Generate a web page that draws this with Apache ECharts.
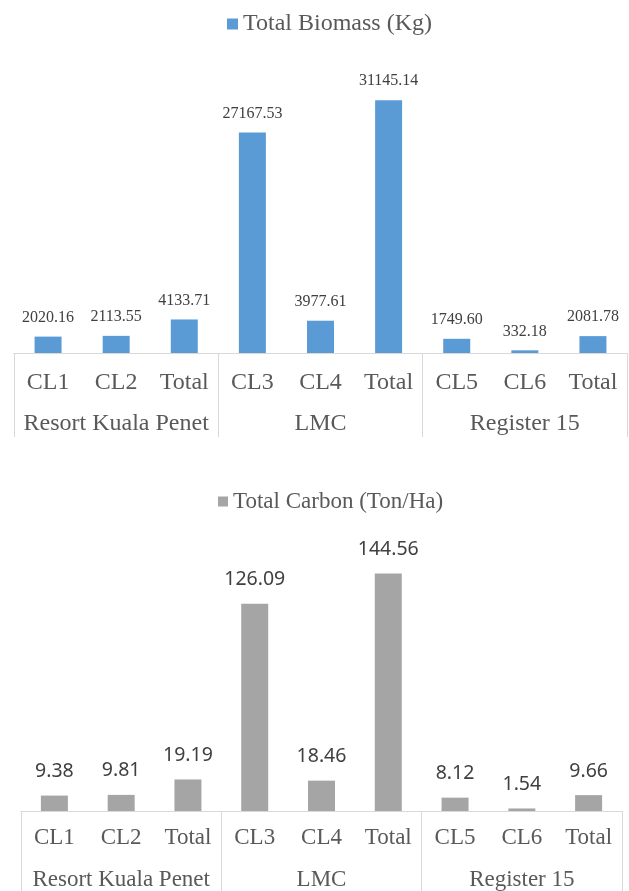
<!DOCTYPE html>
<html>
<head>
<meta charset="utf-8">
<script src="https://cdn.jsdelivr.net/npm/echarts@6/dist/echarts.min.js"></script>
<style>
  html, body { margin: 0; padding: 0; background: #fff; }
  #chart { width: 629px; height: 891px; }
</style>
</head>
<body>
<div id="chart"></div>
<script>
// sites and their plots
const categories = ['CL1', 'CL2', 'Total', 'CL3', 'CL4', 'Total', 'CL5', 'CL6', 'Total'];
const groups = ['Resort Kuala Penet', 'LMC', 'Register 15'];

// values
const biomass = [2020.16, 2113.55, 4133.71, 27167.53, 3977.61, 31145.14, 1749.60, 332.18, 2081.78];
const carbon = [9.38, 9.81, 19.19, 126.09, 18.46, 144.56, 8.12, 1.54, 9.66];

const SERIF = 'Liberation Serif';
const GRAY_TEXT = '#595959';
const LINE = '#d9d9d9';

function levelAxes(gridIndex, size, m1, m2, tickLen) {
  return [
    {
      type: 'category', gridIndex: gridIndex, data: categories, position: 'bottom',
      axisLine: { show: true, lineStyle: { color: LINE, width: 1 } },
      axisTick: { show: false },
      axisLabel: { interval: 0, margin: m1, color: GRAY_TEXT, fontFamily: SERIF, fontSize: size }
    },
    {
      type: 'category', gridIndex: gridIndex, data: groups, position: 'bottom',
      axisLine: { show: true, lineStyle: { color: LINE, width: 1 } },
      axisTick: { show: true, interval: 0, length: tickLen, lineStyle: { color: LINE, width: 1 } },
      axisLabel: { interval: 0, margin: m2, color: GRAY_TEXT, fontFamily: SERIF, fontSize: size }
    }
  ];
}

const chart = echarts.init(document.getElementById('chart'), null, { renderer: 'canvas' });

chart.setOption({
  animation: false,
  backgroundColor: '#fff',
  legend: [
    {
      data: ['Total Biomass (Kg)'], left: 222, top: 7, icon: 'rect',
      itemWidth: 11, itemHeight: 11, itemGap: 6,
      textStyle: { fontFamily: SERIF, fontSize: 24, color: GRAY_TEXT }
    },
    {
      data: ['Total Carbon (Ton/Ha)'], left: 213, top: 485, icon: 'rect',
      itemWidth: 10, itemHeight: 10, itemGap: 6,
      textStyle: { fontFamily: SERIF, fontSize: 23, color: GRAY_TEXT }
    }
  ],
  grid: [
    { left: 14, right: 2, top: 69, height: 284 },
    { left: 21, right: 7, top: 548, height: 264 }
  ],
  xAxis: [].concat(levelAxes(0, 24, 18, 59, 84), levelAxes(1, 23, 15, 57, 90)),
  yAxis: [
    { type: 'value', gridIndex: 0, min: 0, max: 35000, show: false, splitLine: { show: false } },
    { type: 'value', gridIndex: 1, min: 0, max: 160, show: false, splitLine: { show: false } }
  ],
  series: [
    {
      name: 'Total Biomass (Kg)', type: 'bar', xAxisIndex: 0, yAxisIndex: 0,
      data: biomass, barWidth: 27, itemStyle: { color: '#5b9bd5' },
      label: {
        show: true, position: 'top', distance: 11,
        formatter: p => p.value.toFixed(2),
        fontFamily: SERIF, fontSize: 16, color: '#404040'
      }
    },
    {
      name: 'Total Carbon (Ton/Ha)', type: 'bar', xAxisIndex: 2, yAxisIndex: 1,
      data: carbon, barWidth: 27, itemStyle: { color: '#a5a5a5' },
      label: {
        show: true, position: 'top', distance: 14,
        formatter: p => p.value.toFixed(2),
        fontFamily: 'Noto Sans', fontSize: 19.5, color: '#404040'
      }
    }
  ]
});
</script>
</body>
</html>
